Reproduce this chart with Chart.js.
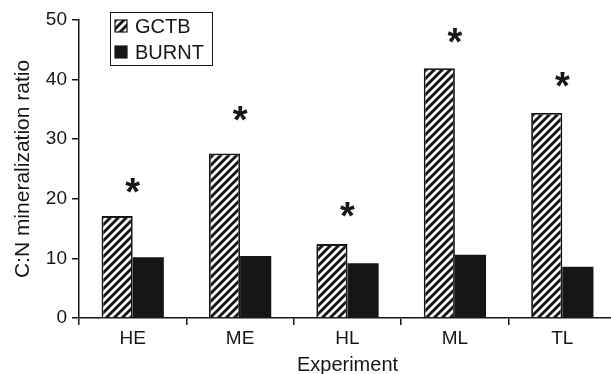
<!DOCTYPE html>
<html>
<head>
<meta charset="utf-8">
<script src="https://cdn.jsdelivr.net/npm/chart.js@4/dist/chart.umd.min.js"></script>
<style>
  html, body { margin: 0; padding: 0; background: #fff; overflow: hidden; }
</style>
</head>
<body>
<canvas id="chart" width="616" height="374"></canvas>
<script>
// data
var experiments = ['HE', 'ME', 'HL', 'ML', 'TL'];
var gctb = [17.1, 27.6, 12.4, 41.9, 34.4];
var burnt = [10.2, 10.4, 9.2, 10.6, 8.6];
var starHeights = [22.6, 34.6, 18.5, 47.8, 40.4];
var yTicks = [0, 10, 20, 30, 40, 50];

var ink = '#161616';
var font = 'Liberation Sans, Arial, sans-serif';

// diagonal hatch for the GCTB bars
function makeHatch() {
    var c = document.createElement('canvas');
    c.width = 8; c.height = 8;
    var g = c.getContext('2d');
    g.fillStyle = '#fff';
    g.fillRect(0, 0, 8, 8);
    g.strokeStyle = ink;
    g.lineWidth = 2.9;
    g.beginPath();
    g.moveTo(-2, 10); g.lineTo(10, -2);
    g.moveTo(-2, 2); g.lineTo(2, -2);
    g.moveTo(6, 10); g.lineTo(10, 6);
    g.stroke();
    return g.createPattern(c, 'repeat');
}
var hatch = makeHatch();

// asterisks above each pair
var starPlugin = {
    id: 'stars',
    afterDatasetsDraw(chart) {
        var ctx = chart.ctx;
        var x = chart.scales.x, y = chart.scales.y;
        var size = 38;
        ctx.save();
        ctx.fillStyle = ink;
        ctx.font = 'bold ' + size + 'px ' + font;
        ctx.textAlign = 'center';
        ctx.textBaseline = 'alphabetic';
        starHeights.forEach(function (v, i) {
            ctx.fillText('*', x.getPixelForValue(i), y.getPixelForValue(v) + size * 0.57);
        });
        ctx.restore();
    }
};

// boxed legend inside the plot
var legendPlugin = {
    id: 'boxLegend',
    afterDraw(chart) {
        var ctx = chart.ctx;
        var left = 110, top = 12, w = 102, h = 53;
        ctx.save();
        ctx.strokeStyle = ink;
        ctx.lineWidth = 1;
        ctx.strokeRect(left + 0.5, top + 0.5, w, h);
        ctx.font = '20px ' + font;
        ctx.textBaseline = 'middle';
        chart.data.datasets.forEach(function (ds, i) {
            var cy = top + 14 + i * 26;
            ctx.fillStyle = ds.backgroundColor;
            ctx.fillRect(115, cy - 6, 12, 12);
            ctx.strokeStyle = ink;
            ctx.lineWidth = 1.2;
            ctx.strokeRect(115, cy - 6, 12, 12);
            ctx.fillStyle = ink;
            ctx.fillText(ds.label, 135, cy + 1);
        });
        ctx.restore();
    }
};

var config = {
    type: 'bar',
    data: {
        labels: experiments,
        datasets: [{
            label: 'GCTB',
            data: gctb,
            backgroundColor: hatch,
            borderColor: ink,
            borderWidth: 1.8,
            borderSkipped: 'bottom'
        }, {
            label: 'BURNT',
            data: burnt,
            backgroundColor: ink,
            borderColor: ink,
            borderWidth: 0
        }]
    },
    options: {
        responsive: false,
        animation: false,
        layout: { padding: { top: 20, right: 0, left: 0, bottom: 0 } },
        plugins: {
            legend: { display: false },
            tooltip: { enabled: false }
        },
        datasets: {
            bar: { categoryPercentage: 0.58, barPercentage: 1.0 }
        },
        scales: {
            x: {
                grid: { drawOnChartArea: false, color: ink, tickLength: 7, lineWidth: 1.5 },
                border: { color: ink, width: 1.5 },
                ticks: { color: ink, font: { family: font, size: 19 }, padding: 2 },
                title: { display: true, text: 'Experiment', color: ink, font: { family: font, size: 20 }, padding: { top: 0, bottom: -3 } },
                afterFit(scale) { scale.height = 56; }
            },
            y: {
                min: 0,
                max: 50,
                afterBuildTicks(scale) { scale.ticks = yTicks.map(function (v) { return { value: v }; }); },
                grid: { drawOnChartArea: false, color: ink, tickLength: 7, lineWidth: 1.5 },
                border: { color: ink, width: 1.5 },
                ticks: { color: ink, font: { family: font, size: 19 }, padding: 5 },
                title: { display: true, text: 'C:N mineralization ratio', color: ink, font: { family: font, size: 21 }, padding: { top: 11, bottom: 0 } },
                afterFit(scale) { scale.width = 79; }
            }
        }
    },
    plugins: [starPlugin, legendPlugin]
};

var ctx = document.getElementById('chart').getContext('2d');
var myChart = new Chart(ctx, config);
</script>
</body>
</html>
